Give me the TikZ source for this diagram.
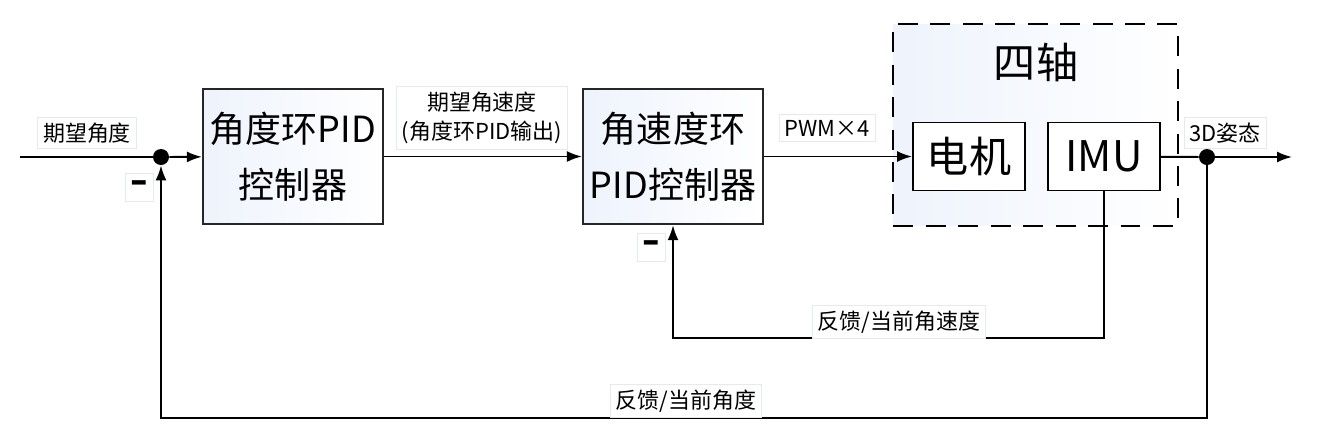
\documentclass[tikz,border=0pt]{standalone}
\usepackage{fontspec}
\newfontfamily\cjk{Noto Sans CJK SC}
\newfontfamily\signfont{DejaVu Sans}
\usetikzlibrary{positioning,arrows.meta,calc}
\definecolor{boxfill}{RGB}{238,243,252}
\definecolor{lblline}{RGB}{228,233,242}
\tikzset{
  ctrl/.style={draw=black!85, line width=1.3pt, minimum width=3.6cm, minimum height=2.7cm,
               align=center, font=\cjk\fontsize{20.5}{32}\selectfont,
               left color=boxfill, right color=white, inner sep=2pt},
  plant/.style={draw, line width=1.1pt, fill=white, minimum width=2.24cm, minimum height=1.36cm,
                font=\cjk\fontsize{24}{26}\selectfont, inner sep=0pt},
  quadbox/.style={draw, dashed, dash pattern=on 4mm off 2.5mm, line width=1.3pt,
                  left color=boxfill, right color=white},
  sig/.style={-{Latex[length=3mm,width=2.2mm]}, line width=1.1pt},
  wire/.style={line width=1.1pt},
  lbl/.style={draw=lblline, fill=white, font=\cjk\fontsize{12.5}{16.5}\selectfont,
              inner sep=3pt, align=center},
  minus/.style={draw=lblline, fill=white, font=\signfont\bfseries\fontsize{20}{20}\selectfont,
                minimum width=0.56cm, minimum height=0.56cm, inner sep=0pt},
  dot/.style={circle, fill=black, minimum size=3.2mm, inner sep=0pt}
}
\begin{document}
\begin{tikzpicture}[x=0.02cm,y=-0.02cm]
\useasboundingbox (0,0) rectangle (1317,441);
% plant
\node[quadbox, minimum width=5.7cm, minimum height=4.04cm] (quad) at (1035.5,125) {};
\node[font=\cjk\fontsize{24}{26}\selectfont] (quadname) at (1036,62) {四轴};
\node[plant] (motor) at (969,156.5) {电机};
\node[plant] (imu) at (1104,156.5) {IMU};
% controllers
\node[ctrl] (pidA) at (293,156.5) {角度环PID\\控制器};
\node[ctrl] (pidB) at (673,156.5) {角速度环\\PID控制器};
% junctions
\coordinate (in) at (20,157);
\node[dot] (sum) at (161,157) {};
\node[dot] (tap) at (1207,157) {};
\coordinate (out) at (1292,157);
\coordinate (fbA) at (1104,338);
\coordinate (fbB) at (673,338);
\coordinate (fbC) at (1207,418);
\coordinate (fbD) at (161,418);
% forward path
\draw[wire] (in) -- (sum);
\draw[sig] (sum) -- (pidA);
\draw[sig] (pidA) -- (pidB);
\draw[sig] (pidB) -- (motor);
\draw[wire] (imu) -- (tap);
\draw[sig] (tap) -- (out);
% feedback
\draw[sig] (imu.south) -- (fbA) -- (fbB) -- (pidB.south);
\draw[sig] (tap) -- (fbC) -- (fbD) -- (sum.south);
% labels
\node[lbl] (refA) at (87,133) {期望角度};
\node[lbl] (refB) at (482,118) {期望角速度\\(角度环PID输出)};
\node[lbl] (pwm) at (827,128) {PWM×4};
\node[lbl] (att) at (1225,133) {3D姿态};
\node[lbl] (fbrate) at (899,322) {反馈/当前角速度};
\node[lbl] (fbangle) at (686,401) {反馈/当前角度};
\node[minus] (negA) at (139,187) {–};
\node[minus] (negB) at (651,247) {–};
\end{tikzpicture}
\end{document}
